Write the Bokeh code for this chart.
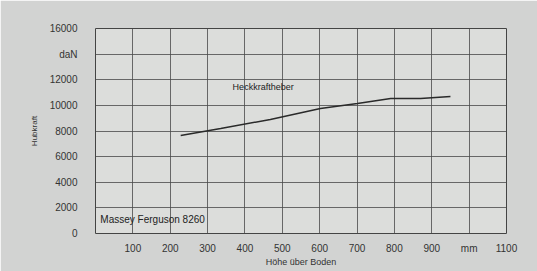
from bokeh.plotting import figure
from bokeh.models import Range1d, FixedTicker, Label
from bokeh.embed import file_html
from bokeh.resources import INLINE

# data
height_mm = [228, 335, 468, 602, 701, 790, 870, 950]
lift_force_daN = [7650, 8200, 8900, 9760, 10150, 10540, 10540, 10700]
x_ticks = [100, 200, 300, 400, 500, 600, 700, 800, 900, 1000, 1100]
x_tick_labels = {1000: "mm"}
y_ticks = [0, 2000, 4000, 6000, 8000, 10000, 12000, 14000, 16000]
y_tick_labels = {14000: "daN"}
series_name = "Heckkraftheber"
model_name = "Massey Ferguson 8260"

FONT = "Liberation Sans"

p = figure(width=537, height=271, output_backend="svg", toolbar_location=None,
           x_range=Range1d(0, 1100), y_range=Range1d(0, 16000),
           min_border_left=95, min_border_right=31, min_border_top=28, min_border_bottom=38)
p.background_fill_color = "#dcdddb"
p.border_fill_color = "#d2d3d2"
p.outline_line_color = "#444444"
p.outline_line_width = 1

p.xaxis.ticker = FixedTicker(ticks=x_ticks)
p.xaxis.major_label_overrides = {k: v for k, v in x_tick_labels.items()}
p.yaxis.ticker = FixedTicker(ticks=y_ticks)
p.yaxis.major_label_overrides = {k: v for k, v in y_tick_labels.items()}

for ax in (p.xaxis, p.yaxis):
    ax.axis_line_color = None
    ax.major_tick_line_color = None
    ax.minor_tick_line_color = None
    ax.major_label_text_font = FONT
    ax.major_label_text_font_size = "10px"
    ax.major_label_text_color = "#333333"
    ax.axis_label_text_font = FONT
    ax.axis_label_text_font_style = "normal"
    ax.axis_label_text_color = "#333333"

p.xaxis.major_label_standoff = 3
p.yaxis.major_label_standoff = 12
p.xaxis.axis_label = "Höhe über Boden"
p.xaxis.axis_label_text_font_size = "9px"
p.xaxis.axis_label_standoff = 0
p.yaxis.axis_label = "Hubkraft"
p.yaxis.axis_label_text_font_size = "8px"
p.yaxis.axis_label_standoff = 8

p.xgrid.ticker = FixedTicker(ticks=[0] + x_ticks)
p.ygrid.ticker = FixedTicker(ticks=y_ticks)
p.xgrid.grid_line_color = "#4a4a4a"
p.ygrid.grid_line_color = "#4a4a4a"
p.xgrid.grid_line_alpha = 0.8
p.ygrid.grid_line_alpha = 0.8

p.line(height_mm, lift_force_daN, line_color="#2a2a2a", line_width=1.5)

p.add_layout(Label(x=367, y=11400, text=series_name, text_font=FONT,
                   text_font_size="9px", text_color="#222222", text_baseline="middle"))
p.add_layout(Label(x=13, y=1100, text=model_name, text_font=FONT,
                   text_font_size="10px", text_color="#222222", text_baseline="middle"))

open("out.html", "w").write(file_html(p, INLINE))
